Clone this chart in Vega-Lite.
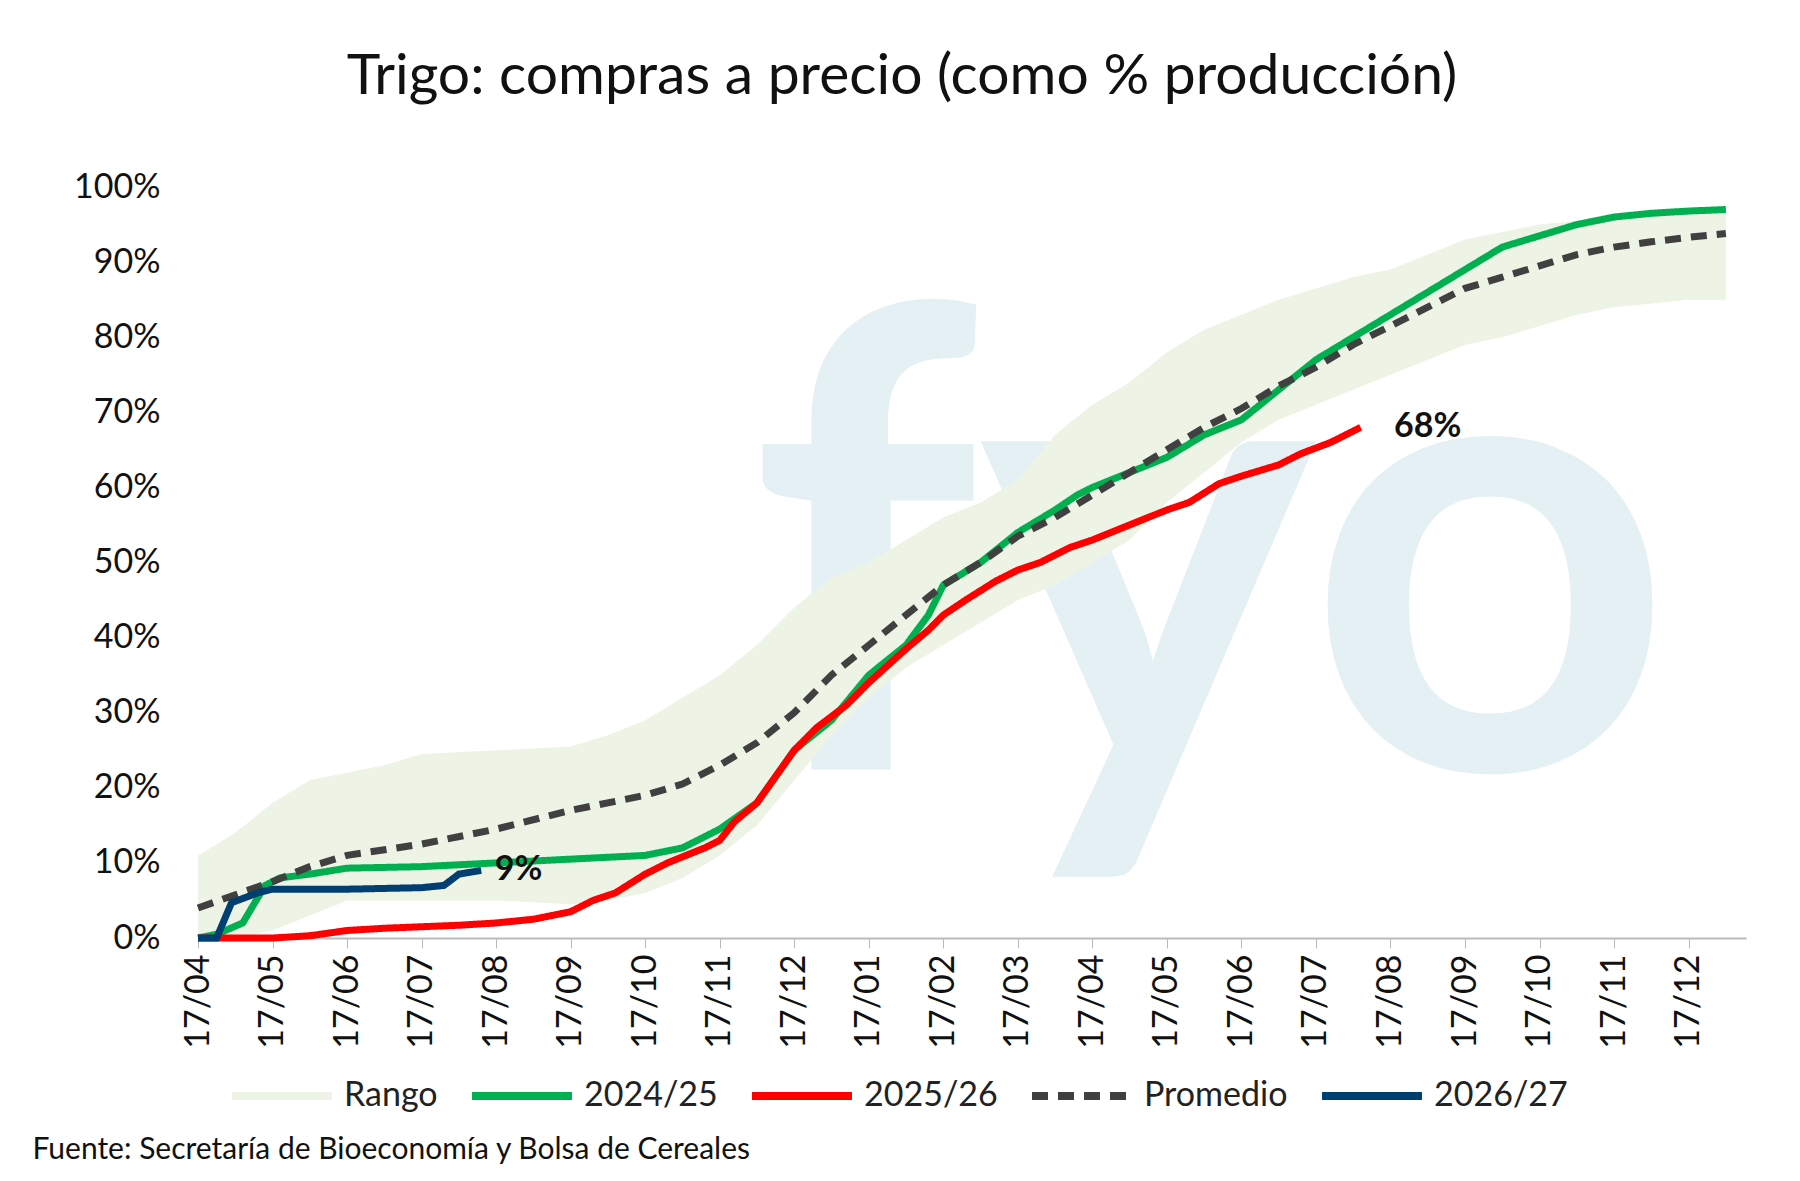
{
"$schema":"https://vega.github.io/schema/vega-lite/v6.json",
"width":1548,"height":751,
"autosize":{"type":"none"},
"padding":{"left":198,"top":187,"right":54,"bottom":243},
"background":"white",
"config":{"view":{"stroke":null},"font":"Lato"},
"title":{"text":"Trigo: compras a precio (como % producción)","fontSize":57,"font":"Lato","fontWeight":"normal","color":"#111","anchor":"middle","offset":64,"dx":-70},
"datasets":{
"rango":[
{"m":0,"lo":0,"hi":11},{"m":0.5,"lo":0,"hi":14},{"m":1,"lo":1,"hi":18},{"m":1.5,"lo":3,"hi":21},{"m":2,"lo":5,"hi":22},{"m":2.5,"lo":5,"hi":23},{"m":3,"lo":5,"hi":24.5},{"m":4,"lo":5,"hi":25},{"m":5,"lo":4.5,"hi":25.5},{"m":5.5,"lo":5,"hi":27},{"m":6,"lo":6,"hi":29},{"m":6.5,"lo":8,"hi":32},{"m":7,"lo":11,"hi":35},{"m":7.5,"lo":15,"hi":39},{"m":8,"lo":21,"hi":44},{"m":8.5,"lo":27,"hi":48},{"m":9,"lo":32,"hi":50},{"m":9.5,"lo":36,"hi":53},{"m":10,"lo":39,"hi":56},{"m":10.5,"lo":42,"hi":58},{"m":11,"lo":45,"hi":61},{"m":11.5,"lo":47,"hi":67},{"m":12,"lo":50,"hi":71},{"m":12.5,"lo":53,"hi":74},{"m":13,"lo":58,"hi":78},{"m":13.5,"lo":62,"hi":81},{"m":14,"lo":66,"hi":83},{"m":14.5,"lo":69,"hi":85},{"m":15,"lo":71,"hi":86.5},{"m":15.5,"lo":73,"hi":88},{"m":16,"lo":75,"hi":89},{"m":16.5,"lo":77,"hi":91},{"m":17,"lo":79,"hi":93},{"m":17.5,"lo":80,"hi":94},{"m":18,"lo":81.5,"hi":95},{"m":18.5,"lo":83,"hi":95.5},{"m":19,"lo":84,"hi":96},{"m":19.5,"lo":84.5,"hi":96.5},{"m":20,"lo":85,"hi":97},{"m":20.5,"lo":85,"hi":97}],
"lines":[
{"s":"2024/25","m":0,"v":0},{"s":"2024/25","m":0.25,"v":0.5},{"s":"2024/25","m":0.6,"v":2},{"s":"2024/25","m":0.9,"v":7},{"s":"2024/25","m":1.1,"v":8},{"s":"2024/25","m":1.5,"v":8.5},{"s":"2024/25","m":2,"v":9.3},{"s":"2024/25","m":3,"v":9.5},{"s":"2024/25","m":4,"v":10},{"s":"2024/25","m":5,"v":10.5},{"s":"2024/25","m":6,"v":11},{"s":"2024/25","m":6.5,"v":12},{"s":"2024/25","m":7,"v":14.5},{"s":"2024/25","m":7.5,"v":18},{"s":"2024/25","m":8,"v":25},{"s":"2024/25","m":8.5,"v":29},{"s":"2024/25","m":9,"v":35},{"s":"2024/25","m":9.5,"v":39},{"s":"2024/25","m":9.8,"v":43},{"s":"2024/25","m":10,"v":47},{"s":"2024/25","m":10.5,"v":50},{"s":"2024/25","m":11,"v":54},{"s":"2024/25","m":11.5,"v":57},{"s":"2024/25","m":11.8,"v":59},{"s":"2024/25","m":12,"v":60},{"s":"2024/25","m":12.5,"v":62},{"s":"2024/25","m":13,"v":64},{"s":"2024/25","m":13.5,"v":67},{"s":"2024/25","m":14,"v":69},{"s":"2024/25","m":14.5,"v":73},{"s":"2024/25","m":15,"v":77},{"s":"2024/25","m":15.5,"v":80},{"s":"2024/25","m":16,"v":83},{"s":"2024/25","m":16.5,"v":86},{"s":"2024/25","m":17,"v":89},{"s":"2024/25","m":17.5,"v":92},{"s":"2024/25","m":18,"v":93.5},{"s":"2024/25","m":18.5,"v":95},{"s":"2024/25","m":19,"v":96},{"s":"2024/25","m":19.5,"v":96.5},{"s":"2024/25","m":20,"v":96.8},{"s":"2024/25","m":20.5,"v":97},
{"s":"2025/26","m":0,"v":0},{"s":"2025/26","m":1,"v":0},{"s":"2025/26","m":1.5,"v":0.3},{"s":"2025/26","m":2,"v":1},{"s":"2025/26","m":2.5,"v":1.3},{"s":"2025/26","m":3,"v":1.5},{"s":"2025/26","m":3.5,"v":1.7},{"s":"2025/26","m":4,"v":2},{"s":"2025/26","m":4.5,"v":2.5},{"s":"2025/26","m":5,"v":3.5},{"s":"2025/26","m":5.3,"v":5},{"s":"2025/26","m":5.6,"v":6},{"s":"2025/26","m":6,"v":8.5},{"s":"2025/26","m":6.3,"v":10},{"s":"2025/26","m":6.8,"v":12},{"s":"2025/26","m":7,"v":13},{"s":"2025/26","m":7.2,"v":15.5},{"s":"2025/26","m":7.5,"v":18},{"s":"2025/26","m":8,"v":25},{"s":"2025/26","m":8.3,"v":28},{"s":"2025/26","m":8.7,"v":31},{"s":"2025/26","m":9,"v":34},{"s":"2025/26","m":9.5,"v":38.5},{"s":"2025/26","m":9.8,"v":41},{"s":"2025/26","m":10,"v":43},{"s":"2025/26","m":10.3,"v":45},{"s":"2025/26","m":10.7,"v":47.5},{"s":"2025/26","m":11,"v":49},{"s":"2025/26","m":11.3,"v":50},{"s":"2025/26","m":11.7,"v":52},{"s":"2025/26","m":12,"v":53},{"s":"2025/26","m":12.5,"v":55},{"s":"2025/26","m":13,"v":57},{"s":"2025/26","m":13.3,"v":58},{"s":"2025/26","m":13.7,"v":60.5},{"s":"2025/26","m":14,"v":61.5},{"s":"2025/26","m":14.5,"v":63},{"s":"2025/26","m":14.8,"v":64.5},{"s":"2025/26","m":15.2,"v":66},{"s":"2025/26","m":15.6,"v":68},
{"s":"Promedio","m":0,"v":4},{"s":"Promedio","m":1,"v":7.5},{"s":"Promedio","m":1.5,"v":9.5},{"s":"Promedio","m":2,"v":11},{"s":"Promedio","m":3,"v":12.5},{"s":"Promedio","m":4,"v":14.5},{"s":"Promedio","m":5,"v":17},{"s":"Promedio","m":6,"v":19},{"s":"Promedio","m":6.5,"v":20.5},{"s":"Promedio","m":7,"v":23},{"s":"Promedio","m":7.5,"v":26},{"s":"Promedio","m":8,"v":30},{"s":"Promedio","m":8.5,"v":35},{"s":"Promedio","m":9,"v":39},{"s":"Promedio","m":9.5,"v":43},{"s":"Promedio","m":10,"v":47},{"s":"Promedio","m":10.5,"v":50},{"s":"Promedio","m":11,"v":53.5},{"s":"Promedio","m":11.5,"v":56},{"s":"Promedio","m":12,"v":59},{"s":"Promedio","m":12.5,"v":62},{"s":"Promedio","m":13,"v":65},{"s":"Promedio","m":13.5,"v":68},{"s":"Promedio","m":14,"v":70.5},{"s":"Promedio","m":14.5,"v":73.5},{"s":"Promedio","m":15,"v":76},{"s":"Promedio","m":15.5,"v":79},{"s":"Promedio","m":16,"v":81.5},{"s":"Promedio","m":16.5,"v":84},{"s":"Promedio","m":17,"v":86.5},{"s":"Promedio","m":17.5,"v":88},{"s":"Promedio","m":18,"v":89.5},{"s":"Promedio","m":18.5,"v":91},{"s":"Promedio","m":19,"v":92},{"s":"Promedio","m":19.5,"v":92.7},{"s":"Promedio","m":20,"v":93.3},{"s":"Promedio","m":20.5,"v":93.8},
{"s":"2026/27","m":0,"v":0},{"s":"2026/27","m":0.25,"v":0},{"s":"2026/27","m":0.45,"v":4.7},{"s":"2026/27","m":0.8,"v":6},{"s":"2026/27","m":1,"v":6.5},{"s":"2026/27","m":2,"v":6.5},{"s":"2026/27","m":3,"v":6.7},{"s":"2026/27","m":3.3,"v":7},{"s":"2026/27","m":3.5,"v":8.5},{"s":"2026/27","m":3.8,"v":9}],
"labels":[{"m":16.5,"v":68,"t":"68%"},{"m":4.3,"v":9,"t":"9%"}]
},
"encoding":{
"x":{"field":"m","type":"quantitative","scale":{"domain":[0,20.77],"nice":false,"zero":false},
"axis":{"values":[0,1,2,3,4,5,6,7,8,9,10,11,12,13,14,15,16,17,18,19,20],"labelExpr":"'17/' + (((datum.value+3)%12+1) < 10 ? '0' : '') + (((datum.value+3)%12+1))","labelAngle":-90,"labelFontSize":34,"labelColor":"#111","grid":false,"domainColor":"#bbb","domainWidth":2,"tickColor":"#bbb","tickSize":10,"labelPadding":6,
"title":"Fuente: Secretaría de Bioeconomía y Bolsa de Cereales","titleFontSize":30,"titleFontWeight":"normal","titleColor":"#111","titleAnchor":"start","titleAlign":"left","titleX":-166,"titleY":196}}
},
"layer":[
{"mark":{"type":"text","fontSize":640,"font":"Lato","fontWeight":"bold","color":"#e4f0f4","baseline":"middle","align":"center"},
 "data":{"values":[{"m":13.6,"v":48,"t":"fyo"}]},
 "encoding":{"y":{"field":"v","type":"quantitative"},"text":{"field":"t"}}},
{"data":{"name":"rango"},"transform":[{"calculate":"'Rango'","as":"s"}],
 "mark":{"type":"area","opacity":1},
 "encoding":{"y":{"field":"lo","type":"quantitative"},"y2":{"field":"hi"},"color":{"field":"s","type":"nominal"},"strokeDash":{"field":"s","type":"nominal"}}},
{"data":{"name":"lines"},
 "mark":{"type":"line","strokeWidth":7},
 "encoding":{
 "y":{"field":"v","type":"quantitative","scale":{"domain":[0,100]},
   "axis":{"values":[0,10,20,30,40,50,60,70,80,90,100],"labelExpr":"datum.value + '%'","labelFontSize":34,"labelColor":"#111","grid":false,"domain":false,"ticks":false,"labelPadding":38,"title":null}},
 "detail":{"field":"s"},
 "color":{"field":"s","type":"nominal","scale":{"domain":["Rango","2024/25","2025/26","Promedio","2026/27"],"range":["#edf4e5","#00b050","#ff0000","#404040","#003f72"]},
   "legend":{"orient":"none","legendX":30,"legendY":855,"direction":"horizontal","title":null,"labelFontSize":34,"labelColor":"#222","symbolType":"stroke","symbolSize":10000,"symbolStrokeWidth":8,"symbolOpacity":1,"columnPadding":18,"labelOffset":8}},
 "strokeDash":{"field":"s","type":"nominal","scale":{"domain":["Rango","2024/25","2025/26","Promedio","2026/27"],"range":[[1,0],[1,0],[1,0],[16,10],[1,0]]},"legend":null}}},
{"data":{"name":"labels"},"mark":{"type":"text","fontSize":34,"fontWeight":"bold","color":"#111","align":"center"},
 "encoding":{"y":{"field":"v","type":"quantitative"},"text":{"field":"t"}}}
]
}
